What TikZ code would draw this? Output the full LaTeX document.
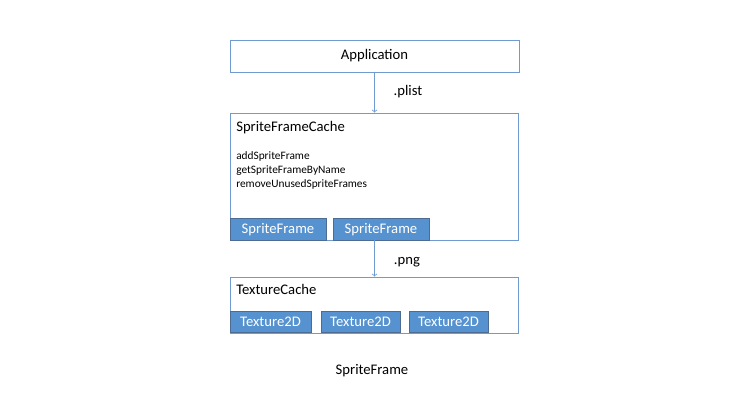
\documentclass[tikz,border=0pt]{standalone}
\usepackage{fontspec}
\setmainfont{Carlito}
\usetikzlibrary{arrows}
\definecolor{lineBlue}{HTML}{6F9BD0}
\definecolor{fillBlue}{HTML}{5592CF}
\def\px{0.75pt}
\tikzset{
cacheBox/.style={draw=lineBlue, fill=white, line width=0.6pt, inner sep=0pt},
itemBox/.style={draw=lineBlue!70!black, fill=fillBlue, text=white, line width=0.5pt,
    inner sep=0pt, minimum height=21.5*\px, font=\fontsize{11}{13}\selectfont},
flowArrow/.style={draw=lineBlue, line width=0.6pt, -to},
plainText/.style={inner sep=0pt, font=\fontsize{11}{13}\selectfont}
}
\begin{document}
\begin{tikzpicture}[x=0.75pt, y=-0.75pt]
    \useasboundingbox (0,0) rectangle (750,414);

    \node[cacheBox, minimum width=289*\px, minimum height=32*\px, font=\fontsize{11}{13}\selectfont] (app) at (374.5,56) {Application};

    \node[cacheBox, minimum width=288*\px, minimum height=127*\px] (sfc) at (374,176.5) {};
    \node[plainText, anchor=west] (sfcTitle) at (236,128) {SpriteFrameCache};
    \node[inner sep=0pt, anchor=north west, align=left, font=\fontsize{8.5}{10.5}\selectfont] (sfcMethods) at (236,151)
        {addSpriteFrame\\getSpriteFrameByName\\removeUnusedSpriteFrames};
    \node[itemBox, minimum width=96*\px] (sf1) at (278,229.5) {SpriteFrame};
    \node[itemBox, minimum width=96*\px] (sf2) at (381,229.5) {SpriteFrame};

    \node[cacheBox, minimum width=288*\px, minimum height=56*\px] (tc) at (374,305) {};
    \node[plainText, anchor=west] (tcTitle) at (236,289) {TextureCache};
    \node[itemBox, minimum width=81*\px] (tex1) at (270.5,322) {Texture2D};
    \node[itemBox, minimum width=79*\px] (tex2) at (360.5,322) {Texture2D};
    \node[itemBox, minimum width=79*\px] (tex3) at (448.5,322) {Texture2D};

    \draw[flowArrow] (app.south) -- (app.south |- sfc.north);
    \draw[flowArrow] (app.south |- sfc.south) -- (app.south |- tc.north);
    \node[plainText] (plistLabel) at (408,92) {.plist};
    \node[plainText] (pngLabel) at (407,262) {.png};

    \node[plainText] (caption) at (372,371) {SpriteFrame};
\end{tikzpicture}
\end{document}
